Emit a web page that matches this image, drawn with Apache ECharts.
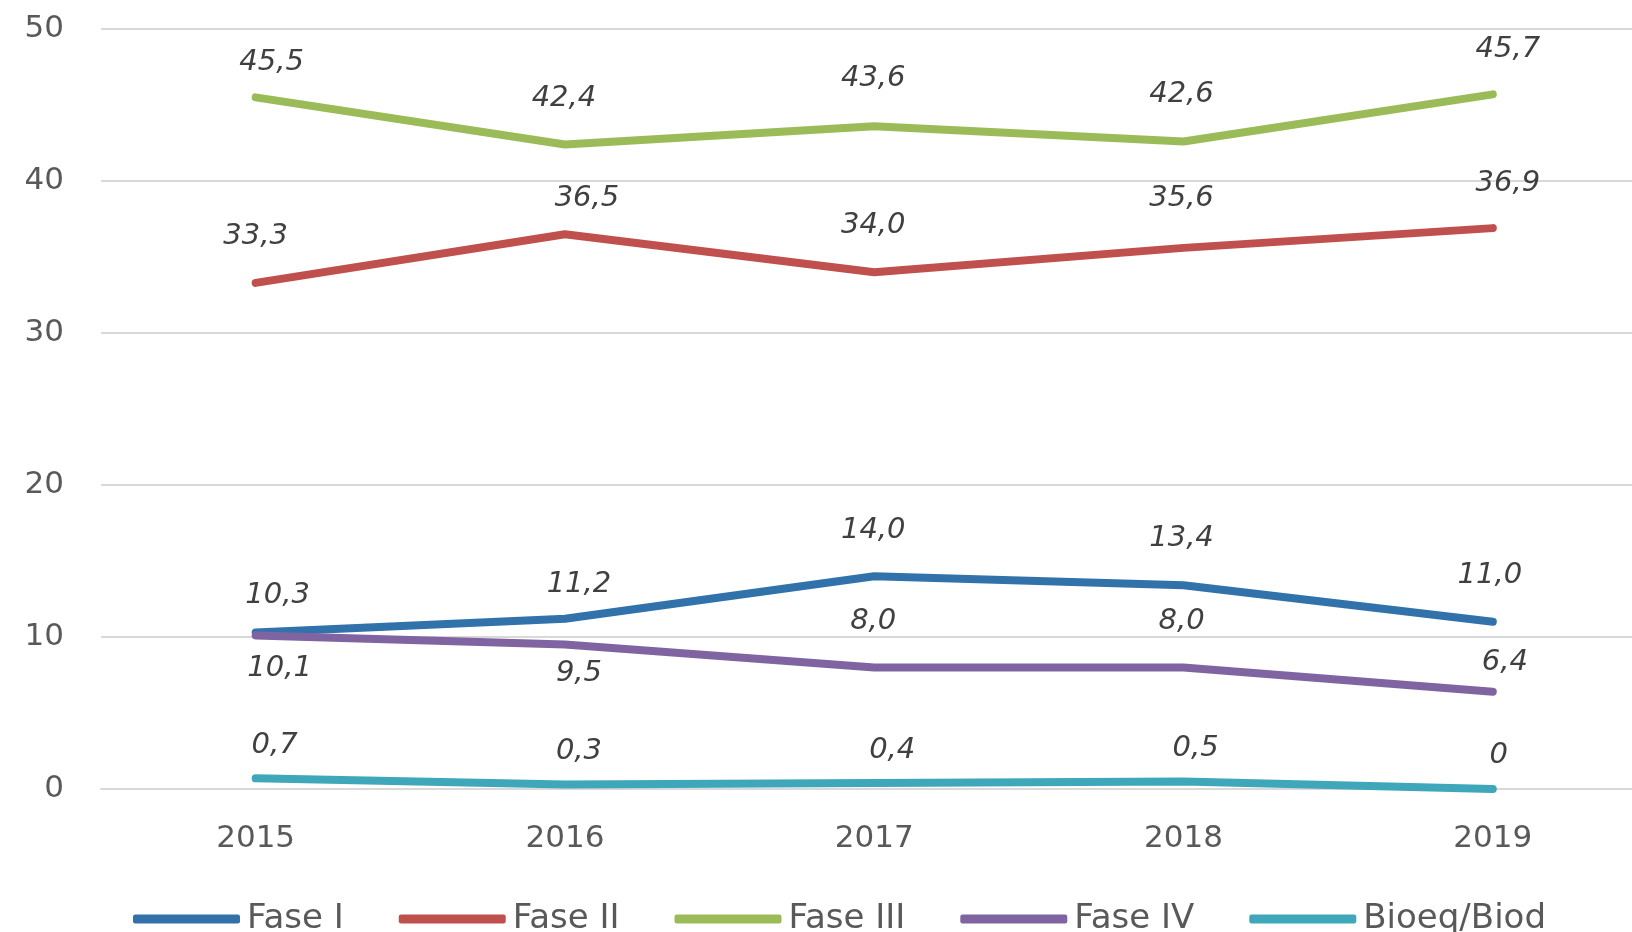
<!DOCTYPE html>
<html>
<head>
<meta charset="utf-8">
<script src="https://cdn.jsdelivr.net/npm/echarts@6/dist/echarts.min.js"></script>
<style>
  html, body { margin: 0; padding: 0; background: #ffffff; }
  #chart { width: 1632px; height: 932px; }
</style>
</head>
<body>
<div id="chart"></div>
<script>
// Years on the x axis
const years = ['2015', '2016', '2017', '2018', '2019'];

// Share per trial phase (%)
const faseI = [10.3, 11.2, 14.0, 13.4, 11.0];
const faseII = [33.3, 36.5, 34.0, 35.6, 36.9];
const faseIII = [45.5, 42.4, 43.6, 42.6, 45.7];
const faseIV = [10.1, 9.5, 8.0, 8.0, 6.4];
const bioeq = [0.7, 0.3, 0.4, 0.5, 0.0];

// Value-axis ticks
const yTicks = [0, 10, 20, 30, 40, 50];

// Label nudges relative to each point [dx, dy]
const offI   = [[22, -37], [14, -34], [-1, -46], [-2, -47], [-3, -46]];
const offII  = [[0, -46], [22, -36], [-1, -47], [-2, -49], [15, -45]];
const offIII = [[16, -35], [-1, -46], [-1, -48], [-2, -47], [15, -45]];
const offIV  = [[24, 33], [14, 29], [-1, -46], [-2, -46], [12, -29]];
const offBio = [[19, -33], [14, -33], [18, -32], [12, -33], [6, -34]];

function fmt(v) {
  if (v === 0) return '0';
  return v.toFixed(1).replace('.', ',');
}

// Years sit at integer positions 0..4; the plot runs past the last year to the right edge
function points(values, offsets) {
  return values.map((v, i) => ({
    value: [i, v],
    label: { offset: offsets[i] }
  }));
}

function lineSeries(name, values, offsets, color) {
  return {
    name: name,
    type: 'line',
    data: points(values, offsets),
    symbol: 'circle',
    symbolSize: 1,
    showSymbol: true,
    itemStyle: { color: color },
    lineStyle: { color: color, width: 8, cap: 'round', join: 'round' },
    label: {
      show: true,
      position: 'inside',
      formatter: p => fmt(p.value[1]),
      color: '#404040',
      fontStyle: 'italic',
      fontFamily: 'DejaVu Sans',
      fontSize: 29
    },
    emphasis: { disabled: true },
    animation: false
  };
}

const chart = echarts.init(document.getElementById('chart'), null, { renderer: 'canvas' });

chart.setOption({
  backgroundColor: '#ffffff',
  animation: false,
  grid: { left: 101, top: 29, right: 0, height: 760 },
  xAxis: {
    type: 'value',
    min: -0.5,
    max: 4.45,
    axisLine: { show: true, lineStyle: { color: '#d9d9d9', width: 2 } },
    axisTick: { show: false },
    splitLine: { show: false },
    axisLabel: {
      color: '#595959',
      fontFamily: 'DejaVu Sans',
      fontSize: 31,
      margin: 34,
      showMinLabel: false,
      showMaxLabel: false,
      formatter: v => (Number.isInteger(v) && years[v] !== undefined) ? years[v] : ''
    }
  },
  yAxis: {
    type: 'value',
    min: yTicks[0],
    max: yTicks[yTicks.length - 1],
    interval: yTicks[1] - yTicks[0],
    axisLine: { show: false },
    axisTick: { show: false },
    splitLine: { lineStyle: { color: '#d9d9d9', width: 2 } },
    axisLabel: {
      color: '#595959',
      fontFamily: 'DejaVu Sans',
      fontSize: 31,
      margin: 37
    }
  },
  legend: {
    left: 128,
    top: 897,
    itemWidth: 107,
    itemHeight: 9,
    itemGap: 55,
    icon: 'roundRect',
    textStyle: {
      color: '#595959',
      fontFamily: 'DejaVu Sans',
      fontSize: 34,
      padding: [0, 0, 0, 2]
    },
    data: ['Fase I', 'Fase II', 'Fase III', 'Fase IV', 'Bioeq/Biod']
  },
  series: [
    lineSeries('Fase I', faseI, offI, '#3272ab'),
    lineSeries('Fase II', faseII, offII, '#c0504d'),
    lineSeries('Fase III', faseIII, offIII, '#9bbb59'),
    lineSeries('Fase IV', faseIV, offIV, '#8064a2'),
    lineSeries('Bioeq/Biod', bioeq, offBio, '#3fa7ba')
  ]
});
</script>
</body>
</html>
